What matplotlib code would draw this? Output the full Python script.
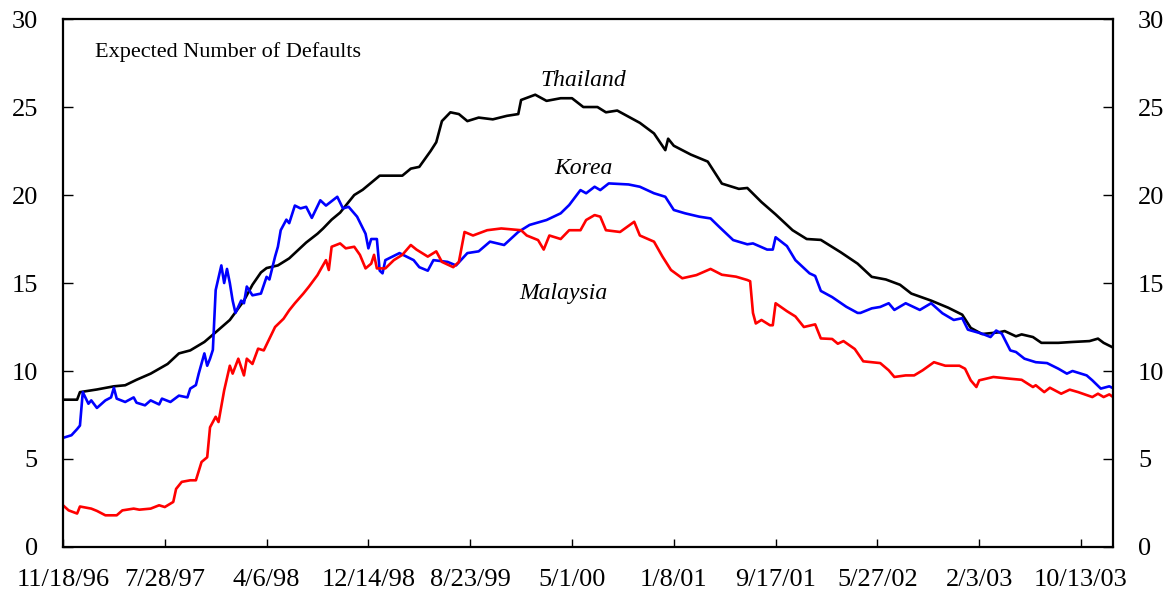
import numpy as np
import matplotlib
matplotlib.use("Agg")
import matplotlib.pyplot as plt

#--- weekly index (week 0 = 11/18/96)
thai_wk  = [0, 5, 6, 12, 18, 22, 26, 31, 37, 41, 45, 50, 54, 59, 64, 67, 70, 72, 76, 80,
            84, 86, 90, 92, 95, 98, 101, 103, 106, 112, 120, 123, 126, 130, 132, 134, 137, 140, 143, 147,
            152, 157, 161, 162, 167, 171, 176, 180, 184, 189, 192, 196, 200, 204, 209, 213, 214, 216, 222, 228,
            230, 233, 239, 242, 247, 252, 258, 263, 268, 275, 281, 286, 291, 296, 300, 307, 313, 318, 321, 325,
            331, 333, 337, 339, 343, 346, 352, 357, 363, 366, 368, 371]
thai_val = [8.37, 8.37, 8.8, 8.95, 9.13, 9.19, 9.5, 9.85, 10.4, 11.0, 11.17, 11.65, 12.2, 12.9, 14.0, 14.9, 15.6, 15.85, 16.0, 16.4,
            17.0, 17.3, 17.8, 18.1, 18.6, 19.0, 19.6, 20.0, 20.3, 21.1, 21.1, 21.5, 21.6, 22.5, 23.0, 24.2, 24.7, 24.6, 24.2, 24.4,
            24.3, 24.5, 24.6, 25.4, 25.7, 25.35, 25.5, 25.5, 25.0, 25.0, 24.7, 24.8, 24.45, 24.1, 23.5, 22.55, 23.2, 22.8, 22.3, 21.9,
            21.4, 20.65, 20.35, 20.4, 19.6, 18.9, 18.0, 17.5, 17.45, 16.75, 16.1, 15.35, 15.2, 14.9, 14.4, 14.0, 13.6, 13.2, 12.45, 12.1,
            12.2, 12.27, 11.97, 12.08, 11.93, 11.6, 11.6, 11.65, 11.7, 11.84, 11.6, 11.36]

korea_wk  = [0, 3, 5, 6, 7, 9, 10, 12, 15, 17, 18, 19, 22, 25, 26, 29, 31, 34, 35, 38,
             41, 44, 45, 47, 48, 50, 51, 52, 53, 54, 56, 57, 58, 59, 60, 61, 63, 64, 65, 67,
             70, 72, 73, 75, 76, 77, 79, 80, 82, 84, 86, 88, 91, 93, 97, 99, 101, 104, 107, 108,
             109, 111, 112, 113, 114, 119, 124, 126, 129, 131, 136, 139, 143, 147, 151, 156, 161, 165, 171, 176,
             179, 183, 185, 188, 190, 193, 200, 204, 209, 213, 216, 220, 225, 229, 232, 237, 242, 244, 249, 251,
             252, 256, 259, 264, 266, 268, 272, 277, 281, 282, 286, 289, 292, 294, 298, 303, 307, 311, 315, 318,
             320, 325, 328, 330, 332, 335, 337, 340, 344, 348, 352, 355, 357, 362, 364, 367, 370, 371]
korea_val = [6.2, 6.35, 6.7, 6.9, 8.8, 8.14, 8.33, 7.9, 8.33, 8.5, 9.05, 8.43, 8.24, 8.5, 8.2, 8.05, 8.33, 8.1, 8.43, 8.24,
             8.6, 8.5, 9.0, 9.2, 9.85, 11.0, 10.3, 10.7, 11.2, 14.6, 16.0, 15.0, 15.8, 15.0, 14.0, 13.3, 14.0, 13.85, 14.8, 14.3,
             14.4, 15.35, 15.2, 16.5, 17.06, 18.0, 18.6, 18.4, 19.4, 19.24, 19.33, 18.7, 19.7, 19.4, 19.9, 19.24, 19.33, 18.77, 17.8, 16.97,
             17.5, 17.5, 15.7, 15.55, 16.3, 16.7, 16.3, 15.9, 15.7, 16.3, 16.2, 16.0, 16.7, 16.8, 17.35, 17.16, 17.9, 18.3, 18.58, 18.96,
             19.43, 20.28, 20.1, 20.47, 20.28, 20.66, 20.6, 20.47, 20.1, 19.9, 19.15, 18.96, 18.77, 18.67, 18.2, 17.44, 17.2, 17.25, 16.9, 16.9,
             17.6, 17.1, 16.3, 15.55, 15.4, 14.55, 14.2, 13.65, 13.3, 13.3, 13.56, 13.64, 13.85, 13.47, 13.85, 13.47, 13.85, 13.28, 12.9, 13.0,
             12.35, 12.12, 11.93, 12.3, 12.12, 11.17, 11.08, 10.7, 10.5, 10.45, 10.13, 9.85, 10.0, 9.75, 9.47, 9.0, 9.13, 9.05]

malay_wk  = [0, 2, 5, 6, 10, 12, 15, 19, 21, 25, 27, 31, 34, 36, 39, 40, 42, 45, 47, 49,
             51, 52, 54, 55, 57, 59, 60, 62, 64, 65, 67, 69, 71, 73, 75, 78, 80, 82, 85, 87,
             90, 91, 93, 94, 95, 98, 100, 103, 105, 107, 109, 110, 111, 114, 117, 120, 123, 125, 129, 132,
             134, 138, 140, 142, 145, 150, 155, 162, 164, 168, 170, 172, 176, 179, 183, 185, 188, 190, 192, 197,
             202, 204, 209, 212, 215, 219, 224, 229, 233, 238, 242, 243, 244, 245, 247, 250, 251, 252, 256, 259,
             262, 266, 268, 272, 274, 276, 280, 283, 289, 292, 294, 298, 301, 304, 308, 312, 317, 319, 321, 323,
             324, 329, 335, 339, 343, 344, 347, 349, 353, 356, 359, 364, 366, 368, 370, 371]
malay_val = [2.37, 2.08, 1.9, 2.3, 2.18, 2.05, 1.8, 1.8, 2.08, 2.18, 2.12, 2.18, 2.37, 2.27, 2.56, 3.3, 3.7, 3.79, 3.79, 4.83,
             5.1, 6.8, 7.4, 7.1, 8.9, 10.3, 9.85, 10.7, 9.75, 10.7, 10.4, 11.27, 11.17, 11.84, 12.5, 12.97, 13.45, 13.85, 14.4, 14.8,
             15.45, 15.74, 16.3, 15.74, 17.06, 17.25, 16.97, 17.06, 16.6, 15.83, 16.1, 16.6, 15.83, 15.83, 16.3, 16.6, 17.16, 16.9, 16.5, 16.8,
             16.2, 15.9, 16.2, 17.9, 17.7, 18.0, 18.1, 18.0, 17.7, 17.44, 16.9, 17.7, 17.5, 18.0, 18.0, 18.58, 18.86, 18.77, 18.0, 17.9,
             18.48, 17.7, 17.35, 16.5, 15.74, 15.27, 15.45, 15.8, 15.47, 15.36, 15.17, 15.1, 13.3, 12.7, 12.9, 12.6, 12.6, 13.85, 13.4, 13.1,
             12.5, 12.65, 11.85, 11.82, 11.55, 11.7, 11.25, 10.55, 10.45, 10.04, 9.66, 9.75, 9.75, 10.04, 10.5, 10.3, 10.3, 10.13, 9.47, 9.09,
             9.47, 9.66, 9.56, 9.5, 9.09, 9.19, 8.8, 9.05, 8.71, 8.94, 8.8, 8.52, 8.71, 8.52, 8.67, 8.56]

tick_wk     = [0, 36, 72, 108, 144, 180, 216, 252, 288, 324, 360]
tick_labels = ["11/18/96", "7/28/97", "4/6/98", "12/14/98", "8/23/99", "5/1/00",
               "1/8/01", "9/17/01", "5/27/02", "2/3/03", "10/13/03"]

plt.rcParams['font.family'] = 'Liberation Serif'

fig = plt.figure(figsize=(11.75, 5.95), dpi=100)
ax = fig.add_axes([0.0536, 0.0807, 0.8936, 0.8873])

ax.plot(thai_wk, thai_val, color='black', lw=1.9)
ax.plot(korea_wk, korea_val, color='blue', lw=1.9)
ax.plot(malay_wk, malay_val, color='red', lw=1.9)

ax.set_xlim(0, 371.3)
ax.set_ylim(0, 30)
ax.set_yticks(range(0, 31, 5))
ax.set_xticks(tick_wk)
ax.set_xticklabels(tick_labels)

ax.tick_params(axis='y', direction='in', length=7, width=1, pad=18, labelsize=19,
               left=True, right=True, labelleft=True, labelright=True)
ax.tick_params(axis='x', direction='in', length=6, width=1, pad=16, labelsize=19)
for s in ax.spines.values():
    s.set_linewidth(1.6)

#--- annotations
ax.text(11.3, 28.1, "Expected Number of Defaults", fontsize=16, va='center', ha='left')
ax.text(184, 26.5, "Thailand", fontsize=17, style='italic', ha='center', va='center')
ax.text(184, 21.5, "Korea", fontsize=17, style='italic', ha='center', va='center')
ax.text(177, 14.4, "Malaysia", fontsize=17, style='italic', ha='center', va='center')

fig.savefig("out.png", dpi=100)
